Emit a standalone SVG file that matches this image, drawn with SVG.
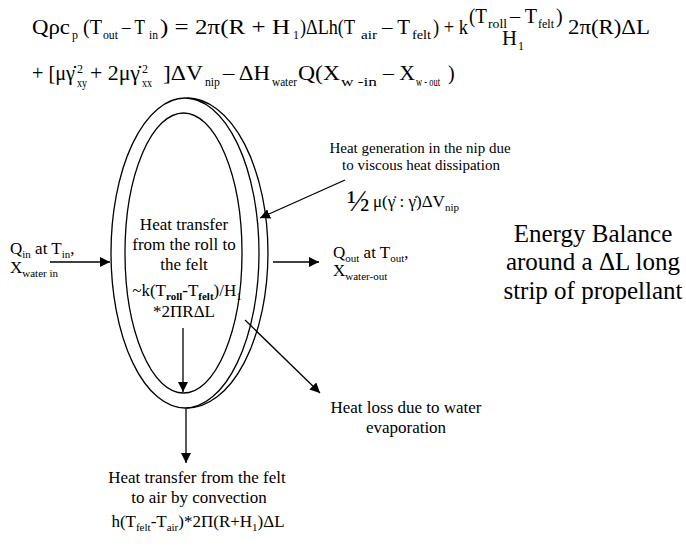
<svg xmlns="http://www.w3.org/2000/svg" width="686" height="548" viewBox="0 0 686 548" font-family="'Liberation Serif','Noto Serif','DejaVu Serif','Times New Roman',Times,serif">
<defs>
<style>
text{font-family:"Liberation Serif","Noto Serif","DejaVu Serif","Times New Roman",Times,serif;fill:#000}
.eq{font-size:20px}
.es{font-size:12px}
.lbl{font-size:17px}
.sm{font-size:15px}
.big{font-size:25px}
.s{font-size:11px}
.ln{stroke:#000;stroke-width:1.3;fill:none}
.arr{stroke:#000;stroke-width:1.3;fill:none;marker-end:url(#ah)}
</style>
<marker id="ah" markerUnits="userSpaceOnUse" markerWidth="11" markerHeight="10" refX="10" refY="5" orient="auto">
<path d="M0,0 L10,5 L0,10 z" fill="#000"/>
</marker>
</defs>
<rect width="686" height="548" fill="#fff"/>

<g id="equation">
<text class="eq" x="32" y="34" textLength="38" lengthAdjust="spacingAndGlyphs">Qρc</text>
<text class="es" x="72" y="39">p</text>
<text class="eq" x="83" y="34" textLength="19" lengthAdjust="spacingAndGlyphs">(T</text>
<text class="es" x="103" y="39" textLength="15" lengthAdjust="spacingAndGlyphs">out</text>
<text class="eq" x="122" y="34" textLength="23" lengthAdjust="spacingAndGlyphs">– T</text>
<text class="es" x="149" y="39" textLength="9" lengthAdjust="spacingAndGlyphs">in</text>
<text class="eq" x="160" y="34" textLength="130" lengthAdjust="spacingAndGlyphs">) = 2π(R + H</text>
<text class="es" x="293" y="39">1</text>
<text class="eq" x="300" y="34" textLength="55" lengthAdjust="spacingAndGlyphs">)ΔLh(T</text>
<text class="es" x="361" y="39" textLength="16" lengthAdjust="spacingAndGlyphs">air</text>
<text class="eq" x="382" y="34" textLength="28" lengthAdjust="spacingAndGlyphs">– T</text>
<text class="es" x="412" y="39" textLength="19" lengthAdjust="spacingAndGlyphs">felt</text>
<text class="eq" x="433" y="34" textLength="35" lengthAdjust="spacingAndGlyphs">) + k</text>
<text class="eq" x="469" y="23" textLength="18" lengthAdjust="spacingAndGlyphs">(T</text>
<text class="es" x="488" y="28" textLength="19" lengthAdjust="spacingAndGlyphs">roll</text>
<text class="eq" x="510" y="23" textLength="27" lengthAdjust="spacingAndGlyphs">– T</text>
<text class="es" x="538" y="28" textLength="16" lengthAdjust="spacingAndGlyphs">felt</text>
<text class="eq" x="556" y="23">)</text>
<text class="eq" x="502" y="45" textLength="15" lengthAdjust="spacingAndGlyphs">H</text>
<text class="es" x="518" y="50">1</text>
<text class="eq" x="568" y="34" textLength="82" lengthAdjust="spacingAndGlyphs">2π(R)ΔL</text>

<text class="eq" x="32" y="80" textLength="43" lengthAdjust="spacingAndGlyphs">+ [μγ̇</text>
<text class="es" x="77" y="73">2</text>
<text class="es" x="77" y="87" textLength="10" lengthAdjust="spacingAndGlyphs">xy</text>
<text class="eq" x="90" y="80" textLength="50" lengthAdjust="spacingAndGlyphs">+ 2μγ̇</text>
<text class="es" x="142" y="73">2</text>
<text class="es" x="142" y="87" textLength="10" lengthAdjust="spacingAndGlyphs">xx</text>
<text class="eq" x="163" y="80" textLength="40" lengthAdjust="spacingAndGlyphs">]ΔV</text>
<text class="es" x="205" y="86" textLength="15" lengthAdjust="spacingAndGlyphs">nip</text>
<text class="eq" x="223" y="80" textLength="47" lengthAdjust="spacingAndGlyphs">– ΔH</text>
<text class="es" x="272" y="86" textLength="25" lengthAdjust="spacingAndGlyphs">water</text>
<text class="eq" x="298" y="80" textLength="42" lengthAdjust="spacingAndGlyphs">Q(X</text>
<text class="es" x="341" y="86" textLength="36" lengthAdjust="spacingAndGlyphs">w -in</text>
<text class="eq" x="383" y="80" textLength="32" lengthAdjust="spacingAndGlyphs">– X</text>
<text class="es" x="416" y="86" textLength="24" lengthAdjust="spacingAndGlyphs">w - out</text>
<text class="eq" x="448" y="80">)</text>
</g>

<g id="strip">
<ellipse class="ln" cx="185" cy="253" rx="74" ry="155"/>
<path class="ln" d="M187,98 A81,155 0 0 1 187,408"/>
<ellipse class="ln" cx="183.5" cy="253" rx="58.5" ry="140"/>
<text class="lbl" text-anchor="middle" x="184" y="230">Heat transfer</text>
<text class="lbl" text-anchor="middle" x="184" y="250">from the roll to</text>
<text class="lbl" text-anchor="middle" x="184" y="270">the felt</text>
<text class="lbl" text-anchor="middle" x="187" y="296">~k(T<tspan class="s" dy="4" font-weight="bold">roll</tspan><tspan dy="-4">-T</tspan><tspan class="s" dy="4" font-weight="bold">felt</tspan><tspan dy="-4">)/H</tspan><tspan class="s" dy="4">1</tspan></text>
<text class="lbl" text-anchor="middle" x="184" y="317">*2ΠRΔL</text>
</g>

<g id="inflow">
<text class="lbl" x="10" y="254">Q<tspan class="s" dy="4">in</tspan><tspan dy="-4"> at T</tspan><tspan class="s" dy="4">in</tspan><tspan dy="-4">,</tspan></text>
<text class="lbl" x="10" y="273">X<tspan class="s" dy="4">water in</tspan></text>
</g>

<g id="outflow">
<text class="lbl" x="333" y="258">Q<tspan class="s" dy="4">out</tspan><tspan dy="-4"> at T</tspan><tspan class="s" dy="4">out</tspan><tspan dy="-4">,</tspan></text>
<text class="lbl" x="333" y="276">X<tspan class="s" dy="4">water-out</tspan></text>
</g>

<g id="heat-generation">
<text class="sm" text-anchor="middle" x="420" y="153">Heat generation in the nip due</text>
<text class="sm" text-anchor="middle" x="421" y="170">to viscous heat dissipation</text>
<text x="347" y="211" style="font-size:30px">½</text>
<text class="lbl" x="373" y="207">μ(γ̇ : γ̇)ΔV<tspan class="s" dy="4">nip</tspan></text>
</g>

<g id="title">
<text class="big" text-anchor="middle" x="593" y="242">Energy Balance</text>
<text class="big" text-anchor="middle" x="593" y="270">around a ΔL long</text>
<text class="big" text-anchor="middle" x="593" y="299">strip of propellant</text>
</g>

<g id="heat-loss">
<text class="lbl" text-anchor="middle" x="406" y="413">Heat loss due to water</text>
<text class="lbl" text-anchor="middle" x="406" y="433">evaporation</text>
</g>

<g id="convection">
<text class="lbl" text-anchor="middle" x="197" y="483">Heat transfer from the felt</text>
<text class="lbl" text-anchor="middle" x="199" y="503">to air by convection</text>
<text class="lbl" text-anchor="middle" x="198" y="527">h(T<tspan class="s" dy="4">felt</tspan><tspan dy="-4">-T</tspan><tspan class="s" dy="4">air</tspan><tspan dy="-4">)*2Π(R+H</tspan><tspan class="s" dy="4">1</tspan><tspan dy="-4">)ΔL</tspan></text>
</g>

<g id="connectors">
<line class="arr" x1="50" y1="262" x2="110" y2="262"/>
<line class="arr" x1="273" y1="262" x2="319" y2="262"/>
<line class="arr" x1="345" y1="180" x2="260" y2="218"/>
<line class="arr" x1="183" y1="328" x2="183" y2="392"/>
<line class="arr" x1="186" y1="408" x2="186" y2="463"/>
<line class="arr" x1="245" y1="320" x2="320" y2="393"/>
</g>
</svg>
